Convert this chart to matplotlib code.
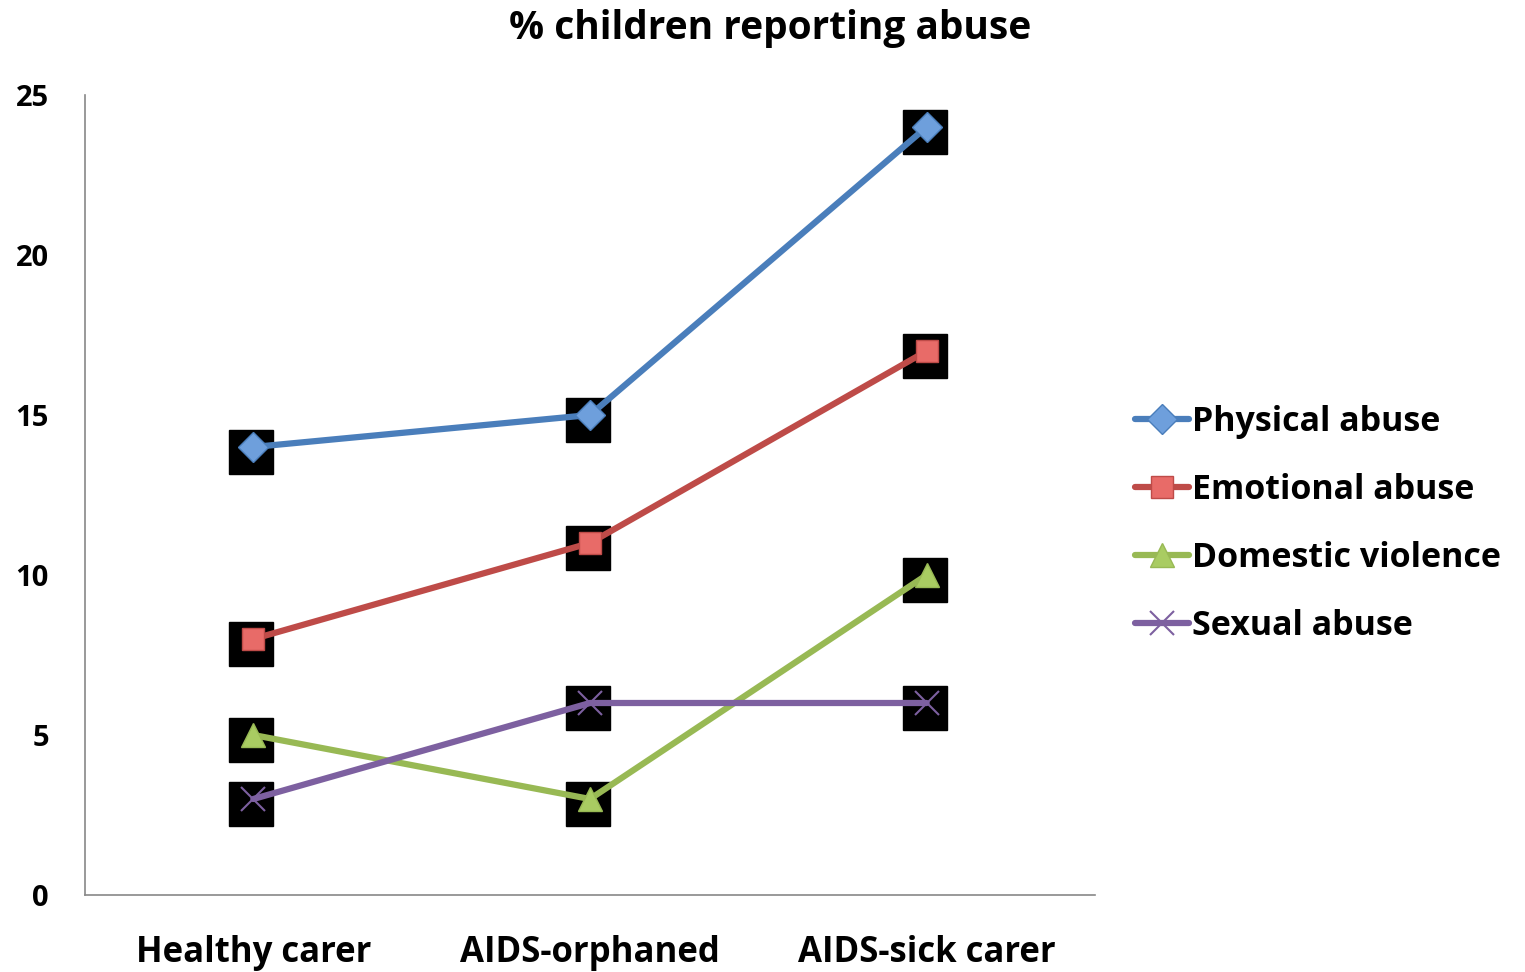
import matplotlib
matplotlib.use("Agg")
import matplotlib.pyplot as plt
import matplotlib.transforms as mtransforms

categories = ["Healthy carer", "AIDS-orphaned", "AIDS-sick carer"]
series_names = ["Physical abuse", "Emotional abuse", "Domestic violence", "Sexual abuse"]
physical = [14, 15, 24]
emotional = [8, 11, 17]
domestic = [5, 3, 10]
sexual = [3, 6, 6]
yticks = [0, 5, 10, 15, 20, 25]

plt.rcParams['font.family'] = ['Open Sans', 'DejaVu Sans']
plt.rcParams['font.weight'] = 'bold'

fig = plt.figure(figsize=(15.25, 9.72), dpi=100)
ax = fig.add_axes([85/1525, 1 - 895/972, 1010/1525, 800/972])

x = list(range(len(categories)))
data = [physical, emotional, domestic, sexual]
line_colors = ["#4A7EBB", "#BE4B48", "#98B954", "#7D60A0"]
markers = ["D", "s", "^", "x"]
mfc = ["#6E9FDC", "#E86B68", "#A9CC62", "#7D60A0"]
msizes = [15, 16, 17, 17]

shadow = ax.transData + mtransforms.ScaledTranslation(-2/100, -5/100, fig.dpi_scale_trans)
for vals in data:
    ax.plot(x, vals, linestyle='none', marker='s', markersize=31, color='black',
            transform=shadow, zorder=2)

handles = []
for vals, c, m, fc, ms, name in zip(data, line_colors, markers, mfc, msizes, series_names):
    if m == 'x':
        h, = ax.plot(x, vals, color=c, linewidth=4.5, marker=m, markersize=ms,
                     markeredgecolor=c, markeredgewidth=1.5, label=name, zorder=3,
                     solid_capstyle='round')
    else:
        h, = ax.plot(x, vals, color=c, linewidth=4.5, marker=m, markersize=ms,
                     markerfacecolor=fc, markeredgecolor=c, markeredgewidth=1, label=name,
                     zorder=3, solid_capstyle='round')
    handles.append(h)

ax.set_xlim(-0.5, 2.5)
ax.set_ylim(0, 25)
ax.set_yticks(yticks)
ax.set_yticklabels([str(v) for v in yticks], fontsize=21, fontweight='bold')
ax.tick_params(axis='both', length=0)
ax.set_xticks(x)
ax.set_xticklabels(categories, fontsize=25, fontweight='bold')
ax.tick_params(axis='y', pad=26)
ax.tick_params(axis='x', pad=29)
for s in ['top', 'right']:
    ax.spines[s].set_visible(False)
for s in ['left', 'bottom']:
    ax.spines[s].set_color('#888888')
    ax.spines[s].set_linewidth(1.2)

fig.text(770/1525, 1 - 29/972, "% children reporting abuse", ha='center', va='center',
         fontsize=28, fontweight='bold')

leg = fig.legend(handles=handles, loc='center left', bbox_to_anchor=(1104/1525, 1 - 524/972),
                 frameon=False, handlelength=1.6, handletextpad=0.1,
                 labelspacing=1.0, prop={'weight': 'bold', 'size': 24.5})

fig.savefig("out.png", dpi=100, facecolor='white')
